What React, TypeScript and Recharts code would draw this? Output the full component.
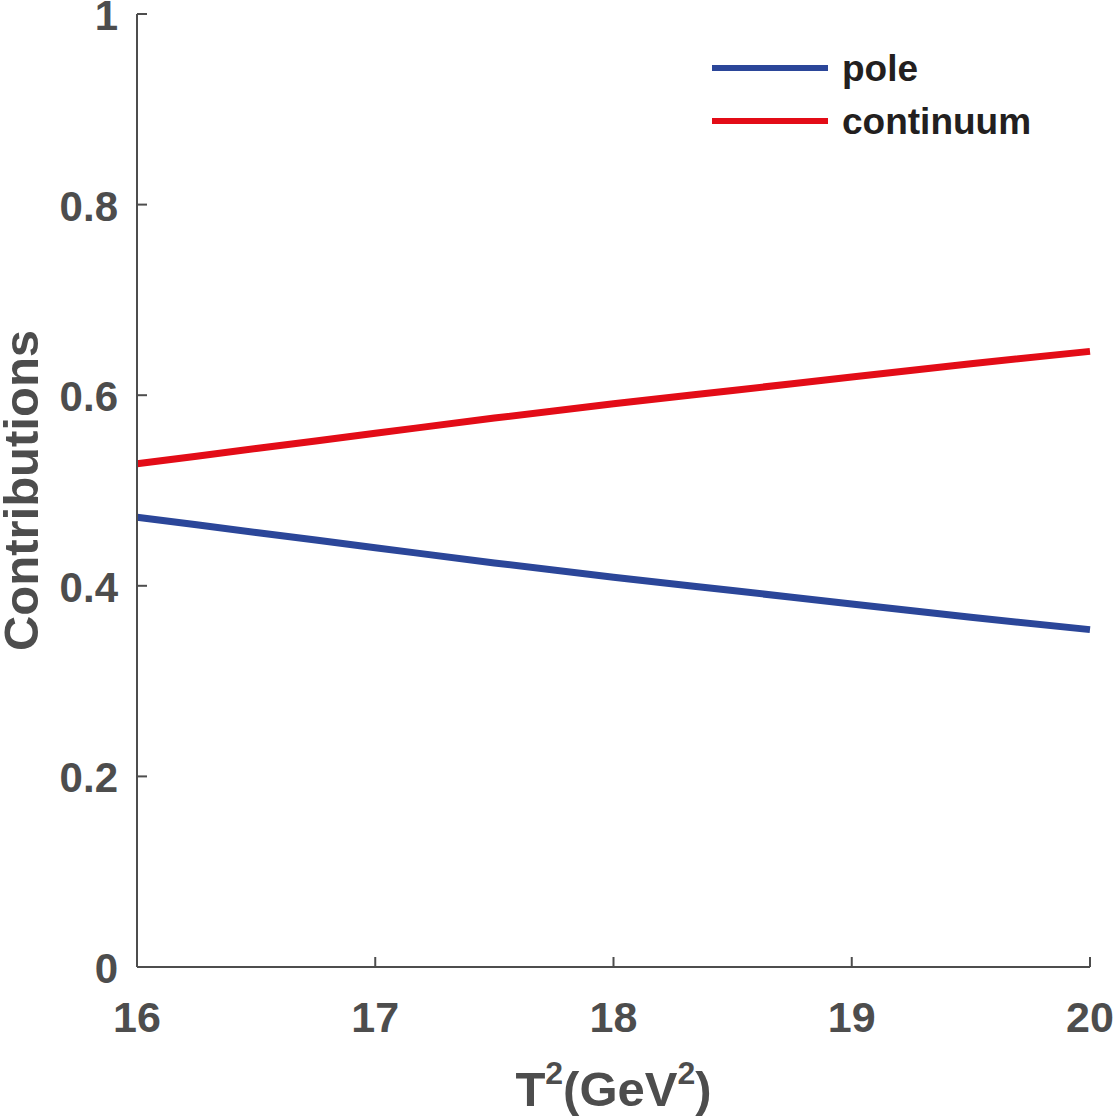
import { LineChart, Line, XAxis, YAxis, Label } from 'recharts';

// T^2 (GeV^2) sample points and the two fractions
const t2Values = [16, 16.5, 17, 17.5, 18, 18.5, 19, 19.5, 20];
const poleValues = [0.472, 0.456, 0.44, 0.424, 0.409, 0.395, 0.381, 0.367, 0.354];
const continuumValues = [0.528, 0.544, 0.56, 0.576, 0.591, 0.605, 0.619, 0.633, 0.646];

const xTicks = [16, 17, 18, 19, 20];
const yTicks = [0, 0.2, 0.4, 0.6, 0.8, 1];

const data = t2Values.map((t, i) => ({ t, pole: poleValues[i], continuum: continuumValues[i] }));

const AXIS = '#4d4d4d';
const FONT = '"Liberation Sans", Arial, sans-serif';
const TICK = 10;

const fmtY = (v: number) => (v === 0 || v === 1 ? String(v) : v.toFixed(1));

function LeftTick({ x, y, payload }: any) {
  return (
    <g>
      <line x1={x} x2={x + TICK} y1={y} y2={y} stroke={AXIS} strokeWidth={2} />
      <text x={x - 19} y={y} dy={16} textAnchor="end" fill={AXIS} fontSize={42} fontWeight="bold" fontFamily={FONT}>
        {fmtY(payload.value)}
      </text>
    </g>
  );
}

function RightTick({ x, y }: any) {
  return <line x1={x} x2={x - TICK} y1={y} y2={y} stroke={AXIS} strokeWidth={2} />;
}

function BottomTick({ x, y, payload }: any) {
  return (
    <g>
      <line x1={x} x2={x} y1={y} y2={y - TICK} stroke={AXIS} strokeWidth={2} />
      <text x={x} y={y + 65} textAnchor="middle" fill={AXIS} fontSize={43} fontWeight="bold" fontFamily={FONT}>
        {payload.value}
      </text>
    </g>
  );
}

function TopTick({ x, y }: any) {
  return <line x1={x} x2={x} y1={y} y2={y + TICK} stroke={AXIS} strokeWidth={2} />;
}

function XTitle({ viewBox }: any) {
  const cx = viewBox.x + viewBox.width / 2;
  return (
    <text x={cx} y={1106} textAnchor="middle" fill={AXIS} fontSize={49} fontWeight="bold" fontFamily={FONT}>
      T<tspan fontSize={32} dy={-22}>2</tspan>
      <tspan dy={22}>(GeV</tspan>
      <tspan fontSize={32} dy={-22}>2</tspan>
      <tspan dy={22}>)</tspan>
    </text>
  );
}

function YTitle({ viewBox }: any) {
  const cy = viewBox.y + viewBox.height / 2;
  return (
    <text
      x={38}
      y={cy}
      transform={`rotate(-90, 38, ${cy})`}
      textAnchor="middle"
      fill={AXIS}
      fontSize={49}
      fontWeight="bold"
      fontFamily={FONT}
    >
      Contributions
    </text>
  );
}

const legendItems = [
  { name: 'pole', color: '#2b4699', top: 47 },
  { name: 'continuum', color: '#e30c17', top: 100 },
];

export default function App() {
  return (
    <div style={{ position: 'absolute', left: 0, top: 0, width: 1113, height: 1119, background: '#fff' }}>
      <LineChart width={1113} height={1119} data={data} margin={{ top: 14, right: 23, bottom: 0, left: 0 }}>
        <XAxis
          dataKey="t"
          type="number"
          domain={[16, 20]}
          ticks={xTicks}
          interval={0}
          height={152}
          stroke={AXIS}
          strokeWidth={2}
          tickLine={false}
          tickSize={0}
          tickMargin={0}
          tick={<BottomTick />}
        >
          <Label content={<XTitle />} />
        </XAxis>
        <XAxis
          xAxisId="top"
          orientation="top"
          dataKey="t"
          type="number"
          domain={[16, 20]}
          ticks={xTicks}
          interval={0}
          height={0}
          stroke={AXIS}
          strokeWidth={2}
          tickLine={false}
          tickSize={0}
          tickMargin={0}
          tick={<TopTick />}
        />
        <YAxis
          type="number"
          domain={[0, 1]}
          ticks={yTicks}
          interval={0}
          width={137}
          stroke={AXIS}
          strokeWidth={2}
          tickLine={false}
          tickSize={0}
          tickMargin={0}
          tick={<LeftTick />}
        >
          <Label content={<YTitle />} />
        </YAxis>
        <YAxis
          yAxisId="right"
          orientation="right"
          type="number"
          domain={[0, 1]}
          ticks={yTicks}
          interval={0}
          width={0}
          stroke={AXIS}
          strokeWidth={2}
          tickLine={false}
          tickSize={0}
          tickMargin={0}
          tick={<RightTick />}
        />
        <Line dataKey="pole" stroke="#2b4699" strokeWidth={7} dot={false} type="monotone" isAnimationActive={false} />
        <Line dataKey="continuum" stroke="#e30c17" strokeWidth={7} dot={false} type="monotone" isAnimationActive={false} />
      </LineChart>
      {legendItems.map((item) => (
        <div
          key={item.name}
          style={{ position: 'absolute', left: 712, top: item.top, display: 'flex', alignItems: 'center', height: 42 }}
        >
          <div style={{ width: 116, height: 6, background: item.color }} />
          <span
            style={{
              marginLeft: 14,
              fontFamily: FONT,
              fontWeight: 'bold',
              fontSize: 37,
              color: '#231f20',
              lineHeight: '42px',
              position: 'relative',
              top: 1,
            }}
          >
            {item.name}
          </span>
        </div>
      ))}
    </div>
  );
}
